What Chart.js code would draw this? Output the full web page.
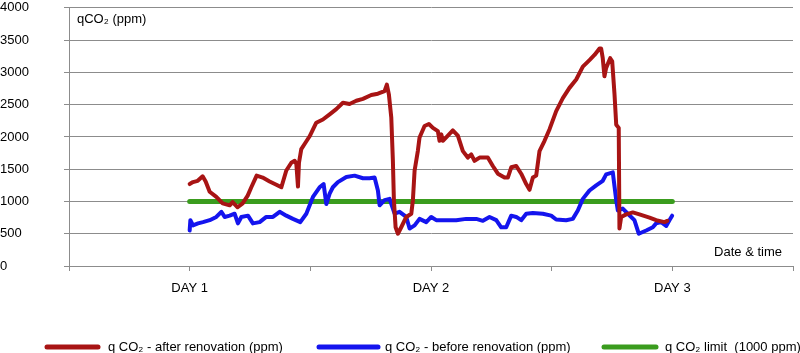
<!DOCTYPE html>
<html>
<head>
<meta charset="utf-8">
<script src="https://cdn.jsdelivr.net/npm/chart.js@4/dist/chart.umd.min.js"></script>
<style>
    body { margin: 0; background: #fff; }
    #wrap { width: 800px; height: 353px; }
</style>
</head>
<body>
<div id="wrap"><canvas id="myChart" width="800" height="353"></canvas></div>
<script>
// hours from the start of DAY 1
const redTime = [0, 0.33, 0.8, 1.29, 1.59, 1.99, 2.65, 3.28, 3.98, 4.27, 4.77, 5.27, 5.77, 6.13, 6.66, 7.26, 7.95, 8.62, 9.12, 9.61,
    10.11, 10.44, 10.61, 10.77, 10.87, 11.1, 11.43, 11.93, 12.59, 13.25, 13.92, 14.58, 15.24, 15.9, 16.57, 17.23, 18.06, 18.72, 19.38, 19.61,
    19.81, 20.05, 20.21, 20.31, 20.48, 20.71, 21.04, 21.54, 22.04, 22.2, 22.37, 22.69, 22.86, 23.36, 23.79, 24.19, 24.68, 24.85, 25.02, 25.18,
    25.68, 26.17, 26.67, 27.17, 27.66, 28.0, 28.33, 28.83, 29.65, 30.15, 30.65, 31.31, 31.64, 31.98, 32.48, 32.97, 33.47, 33.8, 34.13, 34.46,
    34.79, 35.29, 35.79, 36.45, 37.11, 37.77, 38.44, 39.1, 39.76, 40.26, 40.76, 40.92, 41.08, 41.25, 41.42, 41.82, 42.02, 42.25, 42.42, 42.67,
    42.74, 42.91, 43.41, 44.07, 44.73, 45.73, 46.39, 47.22, 47.5];
const redValue = [1270, 1300, 1320, 1390, 1310, 1150, 1070, 970, 940, 990, 910, 970, 1090, 1220, 1400, 1370, 1310, 1260, 1220, 1480,
    1600, 1630, 1580, 1230, 1600, 1810, 1890, 2010, 2220, 2270, 2350, 2430, 2530, 2510, 2560, 2590, 2650, 2670, 2710, 2810,
    2660, 2300, 1630, 1020, 600, 500, 600, 760, 810, 1020, 1480, 1780, 1990, 2170, 2200, 2140, 2090, 1940, 2040, 1940,
    2020, 2100, 2020, 1780, 1680, 1730, 1630, 1680, 1680, 1550, 1430, 1370, 1370, 1530, 1550, 1430, 1270, 1180, 1370, 1400,
    1780, 1940, 2120, 2400, 2600, 2760, 2890, 3090, 3190, 3270, 3370, 3370, 3220, 2940, 3070, 3220, 3170, 2660, 2190, 2140,
    580, 760, 800, 830, 800, 750, 710, 680, 700];

const blueTime = [0, 0.07, 0.33, 0.83, 1.32, 1.99, 2.65, 3.15, 3.48, 3.98, 4.47, 4.8, 5.14, 5.8, 6.29, 6.96, 7.62, 8.28, 8.95, 9.61,
    10.27, 11.0, 11.6, 12.26, 12.92, 13.32, 13.59, 13.92, 14.24, 14.74, 15.58, 16.4, 17.23, 17.89, 18.39, 18.72, 18.89, 19.38, 19.88, 20.38,
    20.87, 21.54, 21.87, 22.37, 22.86, 23.53, 24.02, 24.52, 25.52, 26.51, 27.5, 28.5, 29.16, 29.82, 30.49, 30.98, 31.48, 31.98, 32.48, 32.97,
    33.47, 34.13, 35.12, 35.95, 36.45, 37.44, 38.1, 38.6, 39.1, 39.76, 40.43, 41.08, 41.42, 42.08, 42.42, 42.58, 43.07, 43.57, 44.23, 44.66,
    45.4, 46.06, 46.39, 46.89, 47.39, 47.71, 47.98];
const blueValue = [550, 710, 630, 660, 680, 710, 760, 840, 760, 780, 810, 660, 760, 780, 660, 680, 760, 760, 840, 780,
    730, 680, 810, 1070, 1220, 1270, 960, 1120, 1220, 1300, 1380, 1400, 1360, 1360, 1370, 1170, 940, 1020, 1040, 810,
    840, 760, 580, 630, 730, 680, 760, 710, 710, 710, 730, 730, 700, 760, 710, 600, 600, 780, 760, 710,
    810, 820, 810, 780, 720, 710, 730, 860, 1040, 1170, 1250, 1320, 1420, 1450, 1020, 860, 890, 810, 710, 500,
    550, 600, 660, 680, 620, 710, 780];

const limitTime = [0, 48];
const limitValue = [1000, 1000];

const dayTimes = [0, 24, 48];
const dayLabels = ["DAY 1", "DAY 2", "DAY 3"];
const seriesNames = ["q CO\u2082 - after renovation (ppm)", "q CO\u2082 - before renovation (ppm)", "q CO\u2082 limit  (1000 ppm)"];
const yTitle = "qCO\u2082 (ppm)";
const xTitle = "Date & time";

const RED = "#a81414";
const BLUE = "#1414ee";
const GREEN = "#3a9c1e";
const GRID = "#8c8c8c";
const FONT = '"Liberation Sans", Arial, sans-serif';

function toPoints(times, values) {
    return times.map((t, i) => ({ x: t, y: values[i] }));
}

const extraText = {
    id: "extraText",
    afterDraw(chart) {
        const ctx = chart.ctx;
        const area = chart.chartArea;
        ctx.save();
        ctx.fillStyle = "#000";
        ctx.font = "13px " + FONT;
        ctx.textBaseline = "middle";
        ctx.textAlign = "left";
        ctx.fillText(yTitle, area.left + 8, area.top + 12);
        ctx.textAlign = "right";
        ctx.fillText(xTitle, area.right - 11, area.bottom - 14);

        // legend along the bottom
        const items = [
            { color: RED, x1: 47, x2: 98, tx: 108 },
            { color: BLUE, x1: 319, x2: 378, tx: 385 },
            { color: GREEN, x1: 604, x2: 656, tx: 665 }
        ];
        const ly = 347;
        ctx.lineCap = "round";
        ctx.lineWidth = 5;
        items.forEach((it, i) => {
            ctx.strokeStyle = it.color;
            ctx.beginPath();
            ctx.moveTo(it.x1, ly);
            ctx.lineTo(it.x2, ly);
            ctx.stroke();
            ctx.textAlign = "left";
            ctx.fillText(seriesNames[i], it.tx, ly);
        });
        ctx.restore();
    }
};

Chart.defaults.font.family = FONT;
Chart.defaults.color = "#000";

const ctx = document.getElementById("myChart").getContext("2d");
const chart = new Chart(ctx, {
    type: "line",
    data: {
        datasets: [
            {
                label: seriesNames[0],
                data: toPoints(redTime, redValue),
                borderColor: RED,
                borderWidth: 4,
                order: 0
            },
            {
                label: seriesNames[1],
                data: toPoints(blueTime, blueValue),
                borderColor: BLUE,
                borderWidth: 4,
                order: 1
            },
            {
                label: seriesNames[2],
                data: toPoints(limitTime, limitValue),
                borderColor: GREEN,
                borderWidth: 5,
                order: 2
            }
        ]
    },
    options: {
        responsive: false,
        animation: false,
        devicePixelRatio: 1,
        elements: {
            point: { radius: 0 },
            line: { tension: 0, borderCapStyle: "round", borderJoinStyle: "round", fill: false }
        },
        layout: { padding: { top: 6, right: 7, left: 0, bottom: 0 } },
        plugins: {
            legend: { display: false },
            tooltip: { enabled: false }
        },
        scales: {
            x: {
                type: "linear",
                min: -12,
                max: 60,
                afterFit: scale => {
                    scale.height = 87;
                    scale.paddingLeft = 0;
                    scale.paddingRight = 0;
                },
                afterBuildTicks: scale => {
                    scale.ticks = [-12, 0, 12, 24, 36, 48, 60].map(v => ({ value: v }));
                },
                ticks: {
                    autoSkip: false,
                    maxRotation: 0,
                    padding: 10,
                    font: { size: 13 },
                    callback: value => {
                        const i = dayTimes.indexOf(value);
                        return i >= 0 ? dayLabels[i] : "";
                    }
                },
                grid: { drawOnChartArea: false, color: GRID, tickLength: 5 },
                border: { color: GRID, width: 1 }
            },
            y: {
                min: 0,
                max: 4000,
                afterFit: scale => { scale.width = 69; },
                ticks: {
                    stepSize: 500,
                    padding: 2,
                    crossAlign: "far",
                    font: { size: 13, lineHeight: 0.9 },
                    callback: value => String(value)
                },
                grid: { color: GRID, tickLength: 5 },
                border: { color: GRID, width: 1 }
            }
        }
    },
    plugins: [extraText]
});
</script>
</body>
</html>
